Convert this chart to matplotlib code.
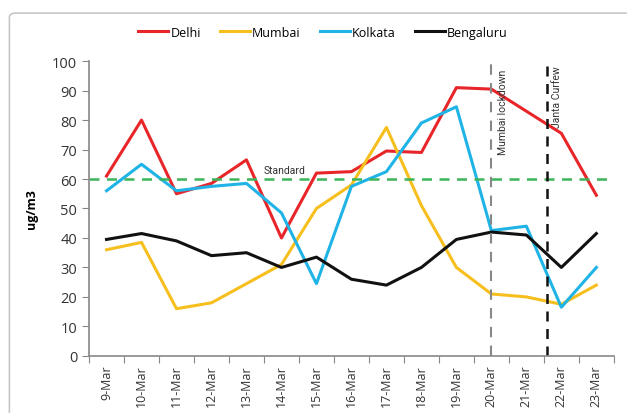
import numpy as np
import matplotlib
matplotlib.use("Agg")
import matplotlib.pyplot as plt
from matplotlib.patches import FancyBboxPatch

dates = ["9-Mar", "10-Mar", "11-Mar", "12-Mar", "13-Mar", "14-Mar", "15-Mar", "16-Mar",
         "17-Mar", "18-Mar", "19-Mar", "20-Mar", "21-Mar", "22-Mar", "23-Mar"]
delhi = [61, 80, 55, 58.5, 66.5, 40, 62, 62.5, 69.5, 69, 91, 90.5, 83, 75.5, 54.5]
mumbai = [36, 38.5, 16, 18, 24.5, 31, 50, 58, 77.5, 51, 30, 21, 20, 17.5, 24]
kolkata = [56, 65, 56, 57.5, 58.5, 48.5, 24.5, 57.5, 62.5, 79, 84.5, 42.5, 44, 16.5, 30]
bengaluru = [39.5, 41.5, 39, 34, 35, 30, 33.5, 26, 24, 30, 39.5, 42, 41, 30, 41.5]
standard = 60
lockdown_pos = 11      # 20-Mar
curfew_pos = 12.6      # between 21-Mar and 22-Mar

narrow = ["Liberation Sans Narrow", "Roboto", "DejaVu Sans"]
plt.rcParams["font.family"] = ["Open Sans", "DejaVu Sans"]

fig = plt.figure(figsize=(6.27, 4.14), dpi=100)
ax = fig.add_axes([0.142, 0.138, 0.837, 0.712])

# chart area border
fig.patches.append(FancyBboxPatch((0.015, -0.05), 1.2, 1.016, boxstyle="round,pad=0,rounding_size=0.01",
                                  transform=fig.transFigure, facecolor="none",
                                  edgecolor="#c8c8c8", linewidth=1.2))

x = np.arange(len(dates))
ax.plot(x, delhi, color="#e8262a", lw=2.2, label="Delhi")
ax.plot(x, mumbai, color="#f7bf1e", lw=2.2, label="Mumbai")
ax.plot(x, kolkata, color="#1fb3e6", lw=2.2, label="Kolkata")
ax.plot(x, bengaluru, color="#111111", lw=2.2, label="Bengaluru")

ax.axhline(standard, color="#3cb55a", lw=1.8, ls=(0, (4, 3)))
ax.text(5.1, standard + 1.2, "Standard", fontsize=7.5, family=narrow, ha="center", va="bottom", color="#333333")

ax.plot([lockdown_pos, lockdown_pos], [0, 100], color="#888888", lw=1.5, ls=(0, (5, 4)))
ax.plot([curfew_pos, curfew_pos], [0, 101], color="#111111", lw=1.8, ls=(0, (4, 3)))
ax.text(lockdown_pos + 0.33, 83, "Mumbai lockdown", rotation=90, fontsize=7.5, family=narrow,
        ha="center", va="center", color="#333333")
ax.text(curfew_pos + 0.27, 88, "Janta Curfew", rotation=90, fontsize=7.5, family=narrow,
        ha="center", va="center", color="#333333")

ax.set_xlim(-0.5, len(dates) - 0.5)
ax.set_ylim(0, 100)
ax.set_yticks(range(0, 101, 10))
ax.set_xticks(np.arange(-0.5, len(dates), 1))
ax.set_xticklabels([])
ax.set_xticks(x, minor=True)
ax.set_xticklabels(dates, minor=True, rotation=90, fontsize=9, color="#333333")
ax.tick_params(axis="x", which="minor", length=0, pad=6)
ax.tick_params(axis="x", which="major", length=5, color="#888888")
ax.tick_params(axis="y", length=5, color="#888888", labelsize=10.5, labelcolor="#333333")

for s in ["top", "right"]:
    ax.spines[s].set_visible(False)
for s in ["left", "bottom"]:
    ax.spines[s].set_color("#888888")
    ax.spines[s].set_linewidth(1.2)

ax.set_ylabel("ug/m3", fontsize=9, fontweight="bold", labelpad=10)

fig.legend(loc="center", bbox_to_anchor=(0.515, 0.92), ncol=4, frameon=False, fontsize=9,
           handlelength=2.4, columnspacing=1.5, handletextpad=0.2)

fig.savefig("out.png", dpi=100)
